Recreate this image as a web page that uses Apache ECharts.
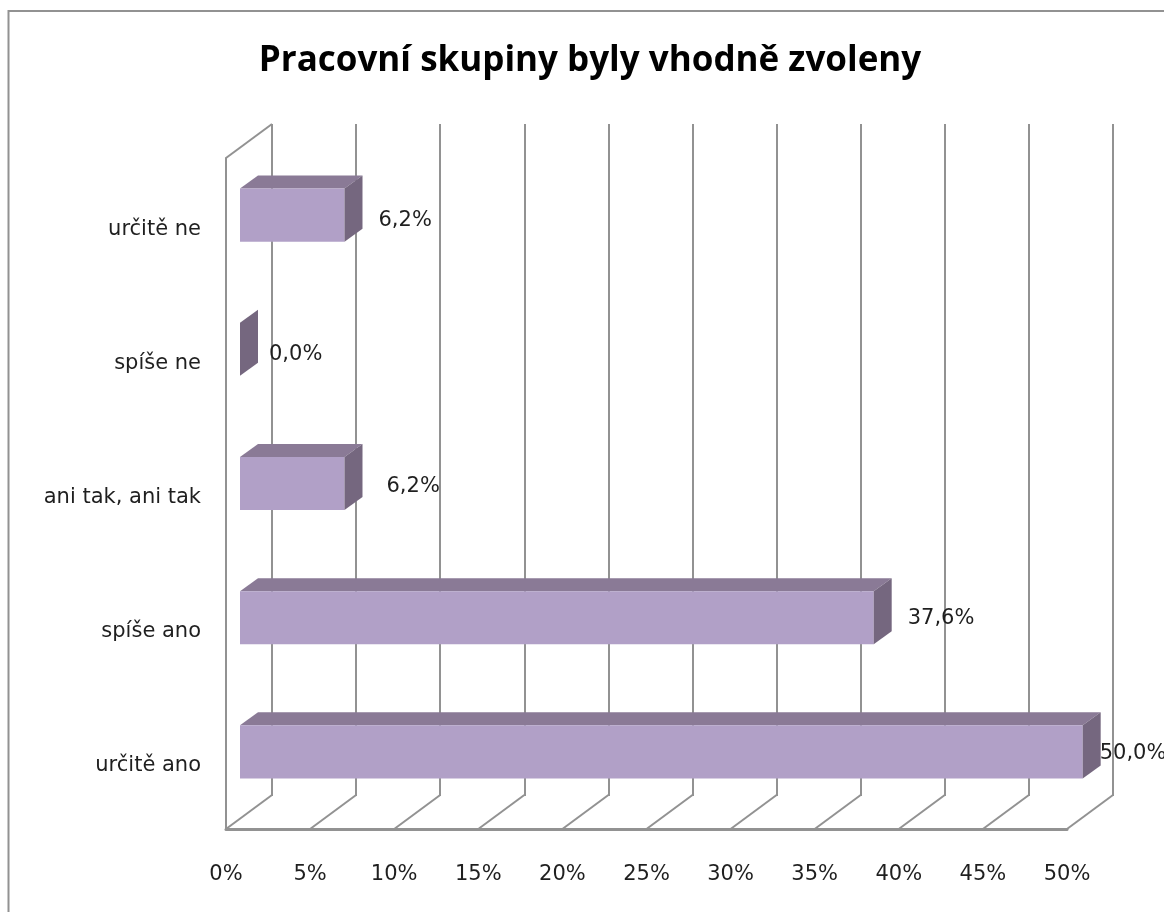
<!DOCTYPE html>
<html><head><meta charset="utf-8">
<style>html,body{margin:0;padding:0;background:#fff}#c{width:1164px;height:912px}</style>
<script src="https://cdn.jsdelivr.net/npm/echarts@6/dist/echarts.min.js"></script>
</head><body><div id="c"></div>
<script>
const categories = ['určitě ano','spíše ano','ani tak, ani tak','spíše ne','určitě ne'];
const values = [50.0,37.6,6.2,0.0,6.2];
const valueLabels = ['50,0%','37,6%','6,2%','0,0%','6,2%'];
const labelGap = [17,34,42,29,34];
const labelDrop = [2,1,3,5,5];
const ticks = [0,5,10,15,20,25,30,35,40,45,50];

const DX=46, DY=34, LINE='#929292', FRONT='#b1a0c7', TOP='#8a7a96', SIDE='#75677f', TXT='#1f1f1f', FONT='"DejaVu Sans"';
const chart = echarts.init(document.getElementById('c'),null,{renderer:'canvas'});
const xBase = {type:'value',min:0,max:50,interval:5};
chart.setOption({
  animation:false, backgroundColor:'#fff',
  title:{text:'Pracovní skupiny byly vhodně zvoleny',left:585,top:39,textAlign:'center',
    textStyle:{fontFamily:'"Open Sans"',fontWeight:'bold',fontSize:35,color:'#000'}},
  graphic:[{type:'rect',shape:{x:8.5,y:11,width:1170,height:920},style:{fill:'none',stroke:LINE,lineWidth:2},z:0}],
  grid:[
    {left:226,top:158,width:841,height:671},
    {left:272,top:124,width:841,height:672}
  ],
  xAxis:[
    {...xBase,gridIndex:0,splitLine:{show:false},axisTick:{show:false},
      axisLine:{show:true,lineStyle:{color:LINE,width:3}},
      axisLabel:{margin:35,formatter:'{value}%',fontFamily:FONT,fontSize:21,color:TXT}},
    {...xBase,gridIndex:1,axisLine:{show:false},axisTick:{show:false},axisLabel:{show:false},
      splitLine:{show:true,lineStyle:{color:LINE,width:2}}}
  ],
  yAxis:[
    {type:'category',gridIndex:0,data:categories,axisTick:{show:false},
      axisLine:{show:true,onZero:false,lineStyle:{color:LINE,width:2}},
      axisLabel:{margin:25,formatter:v=>'{a|'+v+'}',
        rich:{a:{fontFamily:FONT,fontSize:21,color:TXT,padding:[8,0,0,0]}}}},
    {type:'category',gridIndex:1,data:categories,show:false}
  ],
  series:[
    {type:'custom',xAxisIndex:0,yAxisIndex:0,coordinateSystem:'cartesian2d',z:2,silent:true,
     data:ticks.map(t=>[t,0]),clip:false,
     encode:{x:0,y:1},
     renderItem(params,api){
       const cs=params.coordSys, x=api.coord([api.value(0),0])[0], yb=cs.y+cs.height;
       const kids=[{type:'line',shape:{x1:x,y1:yb,x2:x+DX,y2:yb-DY},style:{stroke:LINE,lineWidth:2}}];
       if(api.value(0)===0) kids.push({type:'line',shape:{x1:x,y1:cs.y,x2:x+DX,y2:cs.y-DY},style:{stroke:LINE,lineWidth:2}});
       return {type:'group',children:kids};
     }},
    {type:'custom',xAxisIndex:0,yAxisIndex:0,coordinateSystem:'cartesian2d',z:3,silent:true,clip:false,
     data:values.map((v,i)=>[v,i]),encode:{x:0,y:1},
     renderItem(params,api){
       const i=api.value(1), v=api.value(0);
       const band=api.size([0,1])[1], h=band*0.396;
       const [x0,yc]=api.coord([0,i]), x1=api.coord([v,i])[0];
       const ox=14, oy=-10, dx=18, dy=-13;
       const L=x0+ox, R=L+(x1-x0)*1.002, T=yc+oy-h/2, B=yc+oy+h/2;
       const kids=[];
       if(v>0){
         kids.push({type:'polygon',shape:{points:[[L,T],[L+dx,T+dy],[R+dx,T+dy],[R,T]]},style:{fill:TOP}});
         kids.push({type:'rect',shape:{x:L,y:T,width:R-L,height:B-T},style:{fill:FRONT}});
       }
       kids.push({type:'polygon',shape:{points:[[R,T],[R+dx,T+dy],[R+dx,B+dy],[R,B]]},style:{fill:SIDE}});
       kids.push({type:'text',x:R+labelGap[i],y:yc+oy+labelDrop[i],
         style:{text:valueLabels[i],fontFamily:FONT,fontSize:21,fill:TXT,textAlign:'left',textVerticalAlign:'middle'}});
       return {type:'group',children:kids};
     }}
  ]
});
</script></body></html>
